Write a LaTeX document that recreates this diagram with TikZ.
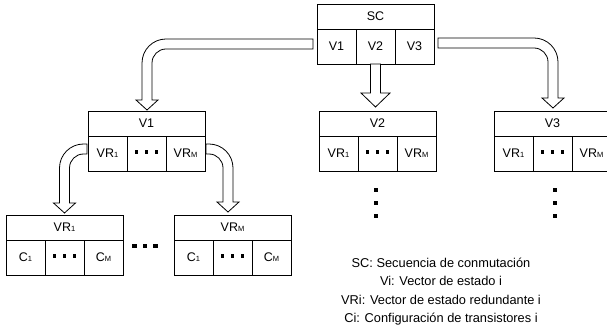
\documentclass[tikz,border=0pt]{standalone}
\usepackage{fontspec}
\setmainfont{Liberation Sans}
\usetikzlibrary{positioning,calc}

\newcommand{\cellsq}{\rule[2.5pt]{3.5pt}{3.5pt}}
\newcommand{\celldots}{\cellsq\hspace{6.5pt}\cellsq\hspace{6.5pt}\cellsq}
\newcommand{\smidx}[1]{{\fontsize{7.5}{8}\selectfont #1}}
% hollow block arrow: horizontal shaft from #1, bent down to the tip #2; #3 = -1 left, 1 right
\newcommand{\bentarrow}[3]{%
  \draw[blockarrow] let \p1=#1, \p2=#2 in
    (\x1,{\y1+5pt}) -- ({\x2-(#3)*19pt},{\y1+5pt})
    arc[start angle=90, end angle={90-(#3)*90}, radius=24pt]
    -- ({\x2+(#3)*5pt},{\y2+10pt}) -- ({\x2+(#3)*11pt},{\y2+10pt})
    -- (\x2,\y2) -- ({\x2-(#3)*11pt},{\y2+10pt}) -- ({\x2-(#3)*5pt},{\y2+10pt})
    -- ({\x2-(#3)*5pt},{\y1-19pt})
    arc[start angle={90-(#3)*90}, end angle=90, radius=14pt]
    -- (\x1,{\y1-5pt}) -- cycle;
}

\begin{document}
\begin{tikzpicture}[
    x=1pt, y=-1pt,
    font=\fontsize{12.5}{15}\selectfont,
    headcell/.style={
        draw,
        line width=0.8pt,
        outer sep=0pt,
        inner sep=0pt,
        minimum width=117pt,
        minimum height=25pt
    },
    cell/.style={
        draw,
        line width=0.8pt,
        outer sep=0pt,
        inner sep=0pt,
        minimum width=39pt,
        minimum height=35pt
    },
    blockarrow/.style={
        draw,
        fill=white,
        line width=0.8pt
    },
    sqdot/.style={
        fill,
        inner sep=0pt,
        minimum size=3.7pt
    },
    legend/.style={
        align=center,
        font=\fontsize{12.8}{18.5}\selectfont
    }
]

\useasboundingbox (0,0) rectangle (607,328);

% switching sequence
\node[headcell, anchor=north west] (SC) at (317,4) {SC};
\node[cell, anchor=north west] (SCa) at (SC.south west) {V1};
\node[cell, right=0pt of SCa] (SCb) {V2};
\node[cell, right=0pt of SCb] (SCc) {V3};

% state vectors
\node[headcell, anchor=north west] (V1) at (88,111) {V1};
\node[cell, anchor=north west] (V1a) at (V1.south west) {VR\smidx{1}};
\node[cell, right=0pt of V1a] (V1b) {\celldots};
\node[cell, right=0pt of V1b] (V1c) {VR\smidx{M}};

\node[headcell, anchor=north west] (V2) at (319,111) {V2};
\node[cell, anchor=north west] (V2a) at (V2.south west) {VR\smidx{1}};
\node[cell, right=0pt of V2a] (V2b) {\celldots};
\node[cell, right=0pt of V2b] (V2c) {VR\smidx{M}};

\node[headcell, anchor=north west] (V3) at (494,111) {V3};
\node[cell, anchor=north west] (V3a) at (V3.south west) {VR\smidx{1}};
\node[cell, right=0pt of V3a] (V3b) {\celldots};
\node[cell, right=0pt of V3b] (V3c) {VR\smidx{M}};

% redundant vectors
\node[headcell, anchor=north west] (R1) at (6,215) {VR\smidx{1}};
\node[cell, anchor=north west] (R1a) at (R1.south west) {C\smidx{1}};
\node[cell, right=0pt of R1a] (R1b) {\celldots};
\node[cell, right=0pt of R1b] (R1c) {C\smidx{M}};

\node[headcell, anchor=north west] (RM) at (174,215) {VR\smidx{M}};
\node[cell, anchor=north west] (RMa) at (RM.south west) {C\smidx{1}};
\node[cell, right=0pt of RMa] (RMb) {\celldots};
\node[cell, right=0pt of RMb] (RMc) {C\smidx{M}};

% dots
\foreach \x [count=\i] in {134.5,145,155.5}
    \node[sqdot, minimum size=4.2pt] (hd\i) at (\x,246) {};
\foreach \y [count=\i] in {190,203,216} {
    \node[sqdot] (vdA\i) at (376,\y) {};
    \node[sqdot] (vdB\i) at (555,\y) {};
}

% arrows
\bentarrow{($(SCa.west)+(-4,-2.5)$)}{($(V1.north)+(0.5,-1)$)}{-1}
\bentarrow{($(SCc.east)+(4,-3.5)$)}{($(V3.north)+(0.5,-3)$)}{1}
\bentarrow{($(V1a.west)+(-1,-4.5)$)}{($(R1.north)+(0,-2)$)}{-1}
\bentarrow{($(V1c.east)+(1,-4.5)$)}{($(RM.north)+(-4.5,-3)$)}{1}
\draw[blockarrow] let \p1=(SCb.south), \p2=($(V2.north)+(0,-4)$) in
    ({\x1-5pt},\y1) -- ({\x1-5pt},{\y2+14pt}) -- ({\x1-14.5pt},{\y2+14pt})
    -- (\x1,\y2) -- ({\x1+14.5pt},{\y2+14pt}) -- ({\x1+5pt},{\y2+14pt})
    -- ({\x1+5pt},\y1) -- cycle;

\node[legend] (key) at (441,291.5) {SC: Secuencia de conmutación\\
Vi: Vector de estado i\\
VRi: Vector de estado redundante i\\
Ci: Configuración de transistores i};

\end{tikzpicture}
\end{document}
